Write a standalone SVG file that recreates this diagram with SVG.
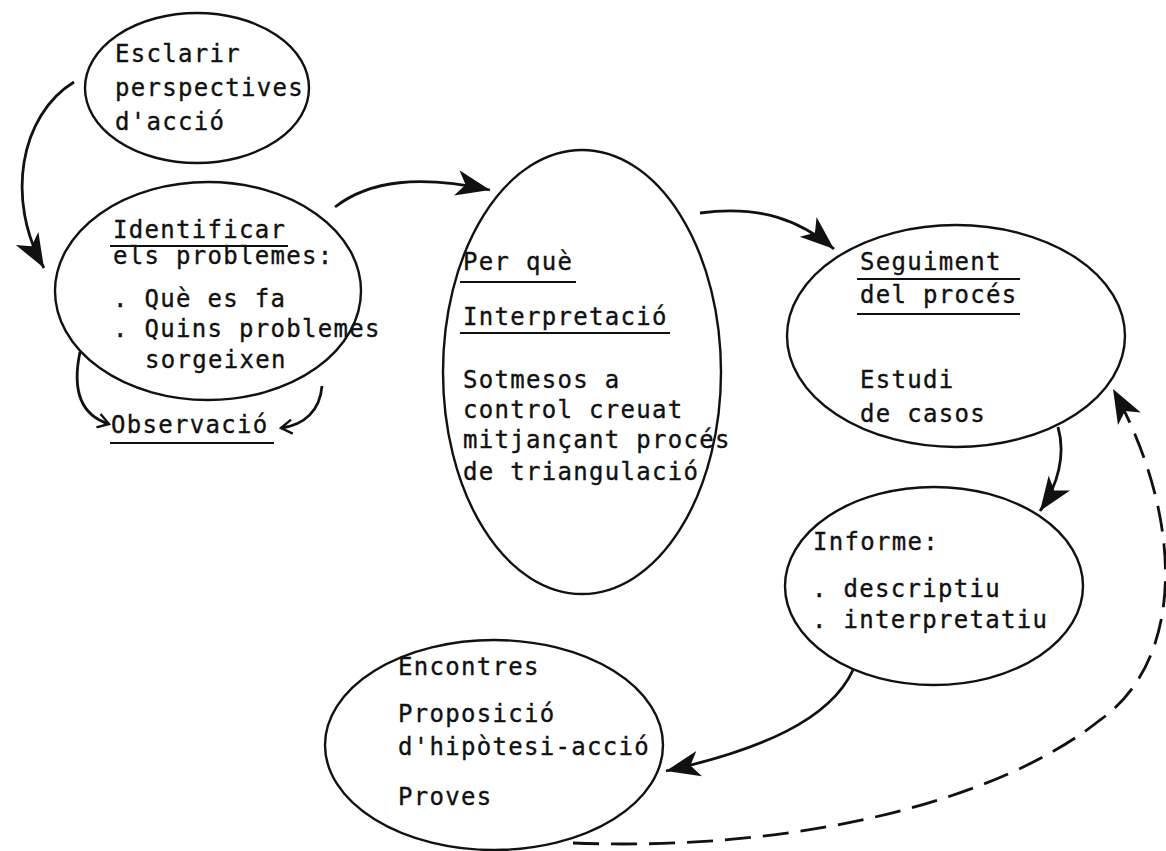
<svg xmlns="http://www.w3.org/2000/svg" width="1166" height="851" viewBox="0 0 1166 851">
<style>
.node ellipse{fill:none;stroke:#111;stroke-width:2.4}
text{font-family:"DejaVu Sans Mono","Liberation Mono",monospace;font-size:24px;letter-spacing:1.3px;fill:#111;stroke:#111;stroke-width:0.35}
.ul{stroke:#111;stroke-width:1.8}
.conn{fill:none;stroke:#111;stroke-width:2.8}
.dash{stroke-dasharray:26 12}
</style>
<defs>
<marker id="head" markerUnits="userSpaceOnUse" markerWidth="36" markerHeight="28" refX="34" refY="13" orient="auto" viewBox="0 0 36 26">
<path d="M0,0 L34,13 L0,26 L9,13 z" fill="#111"/>
</marker>
<marker id="chev" markerUnits="userSpaceOnUse" markerWidth="16" markerHeight="16" refX="12" refY="7" orient="auto" viewBox="0 0 16 14">
<path d="M1,0 L12,7 L1,14" fill="none" stroke="#111" stroke-width="2.4"/>
</marker>
</defs>
<rect width="1166" height="851" fill="#fff"/>
<g id="connectors">
<path class="conn" d="M74 82 C20 115 5 200 44 268" marker-end="url(#head)"/>
<path class="conn" d="M80 352 C72 390 80 415 109 424" marker-end="url(#chev)"/>
<path class="conn" d="M322 386 C320 410 305 425 281 428" marker-end="url(#chev)"/>
<path class="conn" d="M335 207 C370 180 420 175 490 190" marker-end="url(#head)"/>
<path class="conn" d="M700 213 C760 205 800 220 834 249" marker-end="url(#head)"/>
<path class="conn" d="M1058 427 C1066 455 1058 485 1040 511" marker-end="url(#head)"/>
<path class="conn" d="M853 670 C830 720 760 750 666 771" marker-end="url(#head)"/>
<path class="conn dash" d="M573 843 C800 852 1000 800 1100 720 C1185 660 1185 520 1113 389" marker-end="url(#head)"/>
</g>
<g id="n-esclarir" class="node">
<ellipse cx="197" cy="88" rx="112" ry="75"/>
<text x="115" y="62">Esclarir</text>
<text x="115" y="96">perspectives</text>
<text x="115" y="130">d'acció</text>
</g>
<g id="n-identificar" class="node">
<ellipse cx="208" cy="291" rx="153" ry="109"/>
<text x="113" y="238">Identificar</text>
<line class="ul" x1="110" y1="246" x2="288" y2="246"/>
<text x="113" y="264">els problemes:</text>
<text x="113" y="307">. Què es fa</text>
<text x="113" y="337">. Quins problemes</text>
<text x="145" y="368">sorgeixen</text>
</g>
<g id="n-observacio" class="node">
<text x="111" y="433">Observació</text>
<line class="ul" x1="110" y1="443" x2="274" y2="443"/>
</g>
<g id="n-perque" class="node">
<ellipse cx="582" cy="372" rx="139" ry="222"/>
<text x="463" y="270">Per què</text>
<line class="ul" x1="460" y1="282" x2="576" y2="282"/>
<text x="463" y="325">Interpretació</text>
<line class="ul" x1="460" y1="333" x2="670" y2="333"/>
<text x="463" y="388">Sotmesos a</text>
<text x="463" y="418">control creuat</text>
<text x="463" y="448">mitjançant procés</text>
<text x="463" y="480">de triangulació</text>
</g>
<g id="n-seguiment" class="node">
<ellipse cx="956" cy="336" rx="169" ry="111"/>
<text x="860" y="270">Seguiment</text>
<line class="ul" x1="857" y1="279" x2="1020" y2="279"/>
<text x="860" y="303">del procés</text>
<line class="ul" x1="857" y1="314" x2="1020" y2="314"/>
<text x="860" y="388">Estudi</text>
<text x="860" y="422">de casos</text>
</g>
<g id="n-informe" class="node">
<ellipse cx="934" cy="586" rx="149" ry="99"/>
<text x="813" y="550">Informe:</text>
<text x="812" y="597">. descriptiu</text>
<text x="812" y="628">. interpretatiu</text>
</g>
<g id="n-encontres" class="node">
<ellipse cx="494" cy="745" rx="169" ry="105"/>
<text x="398" y="675">Encontres</text>
<text x="398" y="722">Proposició</text>
<text x="398" y="755">d'hipòtesi-acció</text>
<text x="398" y="805">Proves</text>
</g>
</svg>
